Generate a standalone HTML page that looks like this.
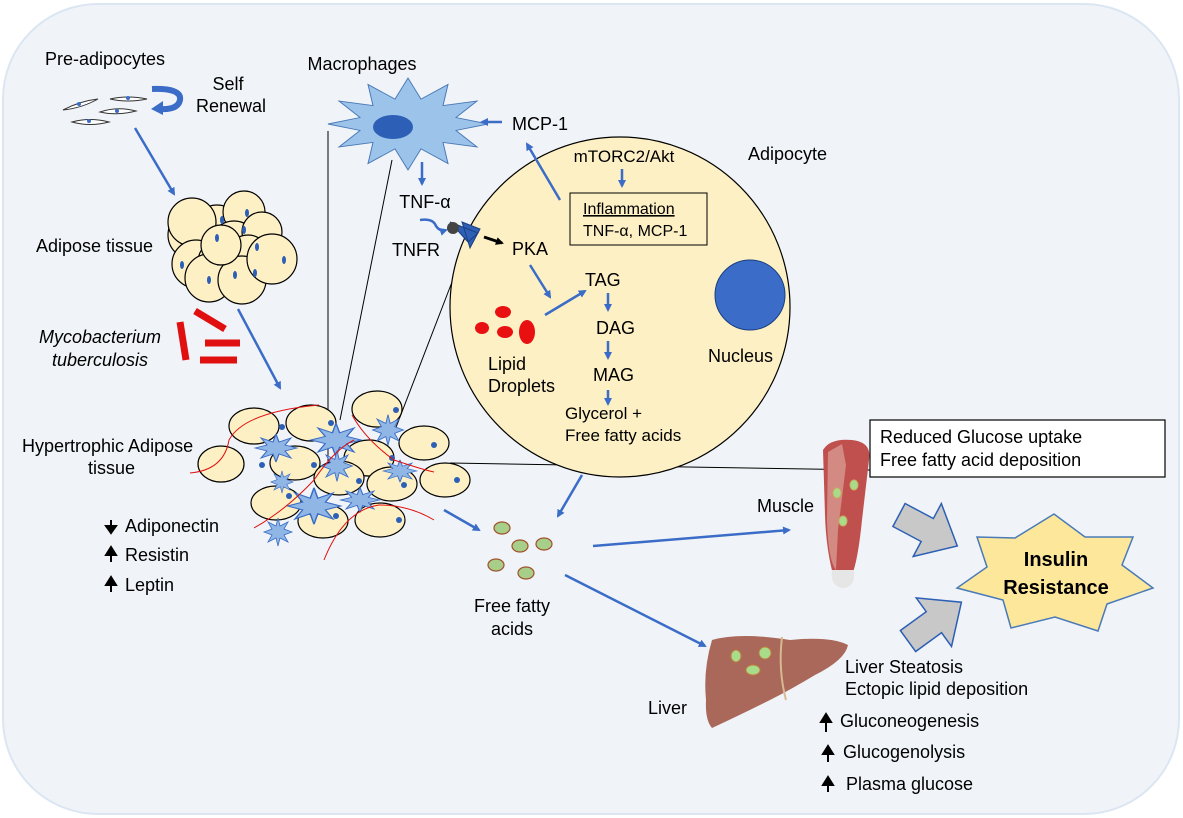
<!DOCTYPE html>
<html><head><meta charset="utf-8"><style>
html,body{margin:0;padding:0;background:#fff;}
svg{display:block;font-family:"Liberation Sans",Arial,sans-serif;}
</style></head><body>
<svg width="1183" height="818" viewBox="0 0 1183 818" xmlns="http://www.w3.org/2000/svg" font-size="18">
<defs>
<marker id="a" markerWidth="8" markerHeight="8" refX="6" refY="4" orient="auto" markerUnits="userSpaceOnUse"><path d="M0,0 L8,4 L0,8 Z" fill="#3a6cc8"/></marker>
<marker id="k" markerWidth="8" markerHeight="8" refX="6" refY="4" orient="auto" markerUnits="userSpaceOnUse"><path d="M0,0 L8,4 L0,8 Z" fill="#000"/></marker>
<polygon id="blk" points="0,-13 32,-13 32,-30 66,0 32,30 32,13 0,13" fill="#c8c8c8" stroke="#2c5fb5" stroke-width="1.5"/>
<polygon id="sm" points="14,0 6,3 10,10 2,6 0,14 -2,6 -10,10 -6,3 -14,0 -6,-3 -10,-10 -2,-6 0,-14 2,-6 10,-10 6,-3" fill="#8fb6e4" stroke="#3a6cc8" stroke-width="0.8"/>
</defs>
<rect x="3" y="4" width="1176" height="810" rx="95" fill="#f0f4f8" stroke="#dbe6f2" stroke-width="2"/>

<!-- pre-adipocytes -->
<text x="45" y="65">Pre-adipocytes</text>
<text x="228" y="90" text-anchor="middle">Self</text>
<text x="231" y="112" text-anchor="middle">Renewal</text>
<g fill="#fff" stroke="#333" stroke-width="1">
<path d="M63,110 Q80,101 98,99 Q82,108 63,110Z"/><path d="M110,99 Q128,95 147,99 Q128,103 110,99Z"/>
<path d="M100,112 Q117,106 136,111 Q117,116 100,112Z"/><path d="M72,122 Q90,117 109,122 Q90,127 72,122Z"/>
</g>
<g fill="#3a6cc8"><circle cx="79" cy="104" r="2"/><circle cx="128" cy="98" r="2"/><circle cx="117" cy="111" r="2"/><circle cx="89" cy="121" r="2"/></g>
<path d="M152,89 Q182,88 180,100 Q178,110 160,109" fill="none" stroke="#3a6cc8" stroke-width="6"/>
<path d="M151,109 L163,101 L163,115 Z" fill="#3a6cc8"/>
<line x1="135" y1="128" x2="174" y2="194" stroke="#3a6cc8" stroke-width="2.5" marker-end="url(#a)"/>

<!-- adipose tissue cluster -->
<text x="36" y="252">Adipose tissue</text>
<g transform="translate(12,0)" >
<g fill="#fdf0c4" stroke="#000" stroke-width="1.2">
<circle cx="180" cy="235" r="24"/><circle cx="205" cy="228" r="23"/><circle cx="180" cy="222" r="24"/><circle cx="232" cy="212" r="21"/><circle cx="222" cy="245" r="24"/><circle cx="250" cy="232" r="20"/><circle cx="184" cy="264" r="24"/><circle cx="208" cy="262" r="22"/><circle cx="236" cy="256" r="21"/><circle cx="197" cy="278" r="24"/><circle cx="230" cy="280" r="24"/><circle cx="260" cy="259" r="25"/><circle cx="209" cy="245" r="20"/>
</g>
<g fill="#2c5fb5"><ellipse cx="210" cy="220" rx="2" ry="4"/><ellipse cx="235" cy="213" rx="2" ry="4"/><ellipse cx="232" cy="230" rx="2" ry="4"/><ellipse cx="205" cy="238" rx="2" ry="4"/><ellipse cx="245" cy="247" rx="2" ry="4"/><ellipse cx="170" cy="265" rx="2" ry="4"/><ellipse cx="197" cy="280" rx="2" ry="4"/><ellipse cx="223" cy="275" rx="2" ry="4"/><ellipse cx="243" cy="273" rx="2" ry="4"/><ellipse cx="272" cy="260" rx="2" ry="4"/></g>
</g>

<!-- mtb -->
<text x="100" y="343" font-style="italic" text-anchor="middle">Mycobacterium</text>
<text x="100" y="366" font-style="italic" text-anchor="middle">tuberculosis</text>
<g stroke="#e01010" stroke-width="7"><line x1="180" y1="322" x2="186" y2="360"/><line x1="195" y1="311" x2="225" y2="329"/><line x1="205" y1="343" x2="240" y2="343"/><line x1="200" y1="360" x2="237" y2="360"/></g>
<line x1="238" y1="309" x2="280" y2="388" stroke="#3a6cc8" stroke-width="2.5" marker-end="url(#a)"/>

<!-- macrophage -->
<text x="362" y="70" text-anchor="middle">Macrophages</text>
<g transform="translate(408,124) scale(1,0.92) translate(-400,-135)">
<polygon points="480,135 448,142 469,160 435,155 440,178 413,162 400,185 387,162 360,178 365,155 331,160 352,142 320,135 352,128 331,110 365,115 360,92 387,108 400,85 413,108 440,92 435,115 469,110 448,128" fill="#9cc3ea" stroke="#4a7ab8" stroke-width="1"/>
</g>
<ellipse cx="393" cy="127" rx="20" ry="12" fill="#2c5fb5"/>
<line x1="328" y1="131" x2="328" y2="470" stroke="#000" stroke-width="1"/>
<line x1="392" y1="160" x2="340" y2="420" stroke="#000" stroke-width="1"/>
<line x1="452" y1="282" x2="395" y2="430" stroke="#000" stroke-width="1"/>
<line x1="450" y1="463" x2="870" y2="470" stroke="#000" stroke-width="1"/>
<line x1="502" y1="122" x2="482" y2="122" stroke="#3a6cc8" stroke-width="2.5" marker-end="url(#a)"/>
<text x="512" y="130">MCP-1</text>
<line x1="422" y1="162" x2="422" y2="184" stroke="#3a6cc8" stroke-width="2.5" marker-end="url(#a)"/>
<text x="425" y="208" text-anchor="middle">TNF-α</text>
<text x="416" y="256" text-anchor="middle">TNFR</text>

<!-- adipocyte -->
<circle cx="620" cy="307" r="170" fill="#fdf0c4" stroke="#000" stroke-width="1.2"/>
<text x="748" y="160">Adipocyte</text>
<text x="624" y="162" font-size="17" text-anchor="middle">mTORC2/Akt</text>
<line x1="622" y1="169" x2="622" y2="186" stroke="#3a6cc8" stroke-width="2.5" marker-end="url(#a)"/>
<rect x="570" y="193" width="137" height="52" fill="#fdf0c4" stroke="#000" stroke-width="1"/>
<text x="583" y="214" font-size="16" text-decoration="underline">Inflammation</text>
<text x="583" y="236" font-size="16">TNF-α, MCP-1</text>
<line x1="560" y1="200" x2="527" y2="144" stroke="#3a6cc8" stroke-width="2.5" marker-end="url(#a)"/>
<path d="M420,220 Q433,218 436,226 Q440,232 446,230" fill="none" stroke="#3a6cc8" stroke-width="2.5" marker-end="url(#a)"/>
<path d="M450,222 L478,233 L468,242 Z M462,222 L480,229 L470,248 Z" fill="#2c5fb5" stroke="#1a3f80"/>
<circle cx="453" cy="228" r="6" fill="#444"/>
<line x1="484" y1="237" x2="502" y2="243" stroke="#000" stroke-width="3" marker-end="url(#k)"/>
<text x="512" y="255">PKA</text>
<line x1="530" y1="265" x2="550" y2="297" stroke="#3a6cc8" stroke-width="2.5" marker-end="url(#a)"/>
<line x1="545" y1="315" x2="585" y2="291" stroke="#3a6cc8" stroke-width="2.5" marker-end="url(#a)"/>
<text x="585" y="286">TAG</text>
<line x1="608" y1="293" x2="608" y2="310" stroke="#3a6cc8" stroke-width="2.5" marker-end="url(#a)"/>
<text x="596" y="334">DAG</text>
<line x1="608" y1="341" x2="608" y2="358" stroke="#3a6cc8" stroke-width="2.5" marker-end="url(#a)"/>
<text x="593" y="381">MAG</text>
<line x1="608" y1="390" x2="608" y2="404" stroke="#3a6cc8" stroke-width="2.5" marker-end="url(#a)"/>
<text x="565" y="419" font-size="17">Glycerol  +</text>
<text x="565" y="441" font-size="17">Free fatty  acids</text>
<g fill="#e81010"><ellipse cx="503" cy="312" rx="8" ry="6"/><ellipse cx="482" cy="328" rx="7" ry="6"/><ellipse cx="505" cy="332" rx="8" ry="6"/><ellipse cx="527" cy="332" rx="8" ry="12"/></g>
<text x="488" y="370">Lipid</text>
<text x="488" y="392">Droplets</text>
<circle cx="750" cy="295" r="35" fill="#3a6cc8" stroke="#1a3f80" stroke-width="1"/>
<text x="708" y="362">Nucleus</text>

<!-- hypertrophic tissue -->
<text x="22" y="452">Hypertrophic Adipose</text>
<text x="88" y="474">tissue</text>
<g transform="translate(14,0)">
<g fill="#fdf0c4" stroke="#000" stroke-width="1.2">
<ellipse cx="240" cy="426" rx="25" ry="18"/><ellipse cx="297" cy="423" rx="25" ry="18"/><ellipse cx="363" cy="409" rx="25" ry="18"/><ellipse cx="207" cy="464" rx="23" ry="18"/><ellipse cx="281" cy="463" rx="25" ry="17"/><ellipse cx="355" cy="458" rx="25" ry="18"/><ellipse cx="410" cy="443" rx="25" ry="17"/><ellipse cx="325" cy="478" rx="25" ry="17"/><ellipse cx="378" cy="484" rx="25" ry="17"/><ellipse cx="431" cy="480" rx="25" ry="17"/><ellipse cx="262" cy="503" rx="25" ry="17"/><ellipse cx="309" cy="521" rx="25" ry="17"/><ellipse cx="366" cy="520" rx="25" ry="17"/>
</g>
<g fill="#2c5fb5"><circle cx="268" cy="427" r="3"/><circle cx="317" cy="423" r="3"/><circle cx="382" cy="410" r="3"/><circle cx="248" cy="465" r="3"/><circle cx="300" cy="465" r="3"/><circle cx="378" cy="458" r="3"/><circle cx="420" cy="445" r="3"/><circle cx="345" cy="481" r="3"/><circle cx="390" cy="485" r="3"/><circle cx="443" cy="480" r="3"/><circle cx="275" cy="496" r="3"/><circle cx="322" cy="516" r="3"/><circle cx="385" cy="520" r="3"/></g>
<use href="#sm" transform="translate(262,448) scale(1.5,1)"/>
<use href="#sm" transform="translate(322,440) scale(1.8,1.2)"/>
<use href="#sm" transform="translate(323,466) scale(1.1)"/>
<use href="#sm" transform="translate(268,482) scale(0.8)"/>
<use href="#sm" transform="translate(300,506) scale(1.9,1.3)"/>
<use href="#sm" transform="translate(346,500) scale(1.4,0.9)"/>
<use href="#sm" transform="translate(374,430) scale(1.1)"/>
<use href="#sm" transform="translate(386,471) scale(1.2,0.8)"/>
<use href="#sm" transform="translate(264,532) scale(1)"/>
<g fill="none" stroke="#e01010" stroke-width="1"><path d="M176,473 Q210,470 215,440 Q230,412 305,405"/><path d="M240,528 Q272,510 300,480 Q320,450 340,440"/><path d="M338,415 Q352,440 380,460 Q410,470 420,472"/><path d="M310,560 Q330,510 365,505 Q395,505 420,520"/></g>
</g>
<g><text x="125" y="532">Adiponectin</text><text x="125" y="561">Resistin</text><text x="125" y="591">Leptin</text></g>
<g stroke="#000" stroke-width="2" fill="#000"><line x1="111" y1="520" x2="111" y2="527"/><path d="M106,526 L116,526 L111,533Z"/><line x1="111" y1="553" x2="111" y2="562"/><path d="M106,555 L116,555 L111,547Z"/><line x1="111" y1="583" x2="111" y2="592"/><path d="M106,585 L116,585 L111,577Z"/></g>

<!-- FFA -->
<line x1="444" y1="510" x2="479" y2="530" stroke="#3a6cc8" stroke-width="2.5" marker-end="url(#a)"/>
<line x1="582" y1="475" x2="558" y2="516" stroke="#3a6cc8" stroke-width="2.5" marker-end="url(#a)"/>
<g fill="#a8cf8a" stroke="#a0522d" stroke-width="1.2"><ellipse cx="502" cy="528" rx="8" ry="6"/><ellipse cx="520" cy="546" rx="8" ry="6"/><ellipse cx="544" cy="544" rx="8" ry="6"/><ellipse cx="496" cy="565" rx="8" ry="6"/><ellipse cx="526" cy="573" rx="8" ry="6"/></g>
<text x="512" y="612" text-anchor="middle">Free fatty</text>
<text x="512" y="635" text-anchor="middle">acids</text>
<line x1="593" y1="546" x2="789" y2="530" stroke="#3a6cc8" stroke-width="2.5" marker-end="url(#a)"/>
<line x1="565" y1="575" x2="705" y2="646" stroke="#3a6cc8" stroke-width="2.5" marker-end="url(#a)"/>

<!-- muscle -->
<text x="757" y="512">Muscle</text>
<path d="M823,450 Q830,438 852,440 Q872,442 869,460 L862,520 Q858,560 852,575 L834,578 Q826,550 825,515 Z" fill="#c0504d"/>
<path d="M828,452 L842,444 L846,465 L838,530 L836,570 Q828,560 827,520Z" fill="#e0b0a8" opacity="0.6"/>
<path d="M832,570 L854,570 Q856,588 842,588 Q830,586 832,570Z" fill="#e6e6e6"/>
<g fill="#a8dc8a" stroke="#c8b060"><ellipse cx="837" cy="493" rx="4" ry="5"/><ellipse cx="854" cy="485" rx="4" ry="5"/><ellipse cx="843" cy="521" rx="4" ry="5"/></g>
<rect x="870" y="420" width="295" height="57" fill="#fff" stroke="#000" stroke-width="1.2"/>
<text x="880" y="443">Reduced Glucose uptake</text>
<text x="880" y="466">Free fatty  acid deposition</text>

<!-- gray arrows -->
<use href="#blk" transform="translate(899,515) rotate(28)"/>
<use href="#blk" transform="translate(908,641) rotate(-36)"/>

<!-- insulin resistance -->
<polygon points="977,537 1015,538 1054,514 1085,537 1133,537 1122,565 1153,588 1107,604 1098,631 1055,617 1011,628 1003,600 957,588 987,567" fill="#fde79a" stroke="#4a7ab8" stroke-width="1.5"/>
<text x="1056" y="566" font-size="20" font-weight="bold" text-anchor="middle">Insulin</text>
<text x="1056" y="594" font-size="20" font-weight="bold" text-anchor="middle">Resistance</text>

<!-- liver -->
<path d="M712,640 Q740,632 790,640 Q830,636 848,645 Q845,660 815,675 Q790,690 770,700 Q740,715 712,728 Q705,720 706,700 Q703,670 712,640Z" fill="#a9685a"/>
<path d="M782,637 Q778,670 786,700" fill="none" stroke="#d8b890" stroke-width="2"/>
<g fill="#a8dc8a" stroke="#c08040"><ellipse cx="736" cy="656" rx="5" ry="6"/><ellipse cx="765" cy="653" rx="6" ry="6"/><ellipse cx="753" cy="670" rx="7" ry="5"/></g>
<text x="648" y="714">Liver</text>
<text x="845" y="673">Liver Steatosis</text>
<text x="845" y="695">Ectopic lipid deposition</text>
<g><text x="840" y="727">Gluconeogenesis</text><text x="843" y="758">Glucogenolysis</text><text x="846" y="790">Plasma glucose</text></g>
<g stroke="#000" stroke-width="2" fill="#000"><line x1="826" y1="720" x2="826" y2="732"/><path d="M821,722 L831,722 L826,714Z"/><line x1="828" y1="752" x2="828" y2="762"/><path d="M823,754 L833,754 L828,746Z"/><line x1="828" y1="783" x2="828" y2="792"/><path d="M823,785 L833,785 L828,777Z"/></g>
</svg>
</body></html>
